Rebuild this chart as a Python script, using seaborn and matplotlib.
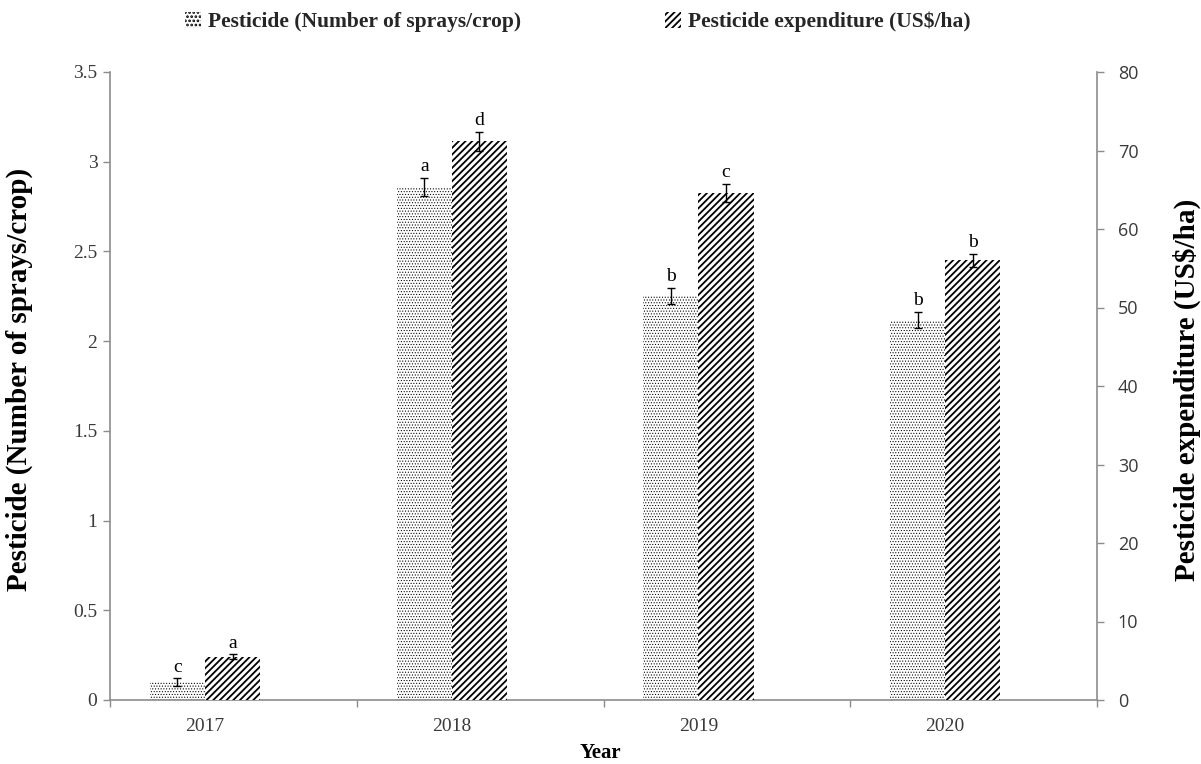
import matplotlib
matplotlib.use("Agg")
import matplotlib.pyplot as plt
import matplotlib.patches as mpatches
import pandas as pd
import seaborn as sns

# ---- data ----
years = ["2017", "2018", "2019", "2020"]
sprays = [0.10, 2.86, 2.25, 2.12]
sprays_err = [0.02, 0.05, 0.045, 0.045]
sprays_letters = ["c", "a", "b", "b"]
expenditure = [5.5, 71.2, 64.6, 56.0]
expenditure_err = [0.3, 1.2, 1.15, 0.8]
expenditure_letters = ["a", "d", "c", "b"]

left_ticks = [0, 0.5, 1, 1.5, 2, 2.5, 3, 3.5]
left_ticklabels = ["0", "0.5", "1", "1.5", "2", "2.5", "3", "3.5"]
right_ticks = [0, 10, 20, 30, 40, 50, 60, 70, 80]

label_sprays = "Pesticide (Number of sprays/crop)"
label_exp = "Pesticide expenditure (US$/ha)"
x_label = "Year"

# ---- styling ----
sns.set_theme(style="white")
plt.rcParams["font.family"] = ["Liberation Serif", "DejaVu Serif"]
AXIS_GREY = "#8c8c8c"
TEXT_GREY = "#3a3a3a"
DOTS = "......"
DOT_LW = 0.45
STRIPES = "/////"
STRIPE_LW = 1.3

df = pd.DataFrame({
    "Year": years * 2,
    "value": sprays + expenditure,
    "series": [label_sprays] * 4 + [label_exp] * 4,
})
hue_order = [label_sprays, label_exp]
palette = {label_sprays: "white", label_exp: "white"}

fig = plt.figure(figsize=(12.01, 7.64), dpi=100)
ax = fig.add_axes([110 / 1201, 1 - 700 / 764, 987 / 1201, 628 / 764])
ax2 = ax.twinx()

plt.rcParams["hatch.linewidth"] = DOT_LW
sns.barplot(data=df[df["series"] == label_sprays], x="Year", y="value",
            hue="series", hue_order=hue_order, order=years, palette=palette,
            width=0.446, dodge=True, legend=False, ax=ax,
            hatch=DOTS, edgecolor="black", linewidth=0)
dot_handle = mpatches.Patch(facecolor="white", edgecolor="black", linewidth=0,
                            hatch="....", label=label_sprays)

plt.rcParams["hatch.linewidth"] = STRIPE_LW
sns.barplot(data=df[df["series"] == label_exp], x="Year", y="value",
            hue="series", hue_order=hue_order, order=years, palette=palette,
            width=0.446, dodge=True, legend=False, ax=ax2,
            hatch=STRIPES, edgecolor="black", linewidth=0)
stripe_handle = mpatches.Patch(facecolor="white", edgecolor="black", linewidth=0,
                               hatch=STRIPES, label=label_exp)


def bar_centres(axis):
    bars = sorted(axis.patches, key=lambda p: p.get_x())
    return [b.get_x() + b.get_width() / 2 for b in bars]


for axis, vals, errs, letters in [
    (ax, sprays, sprays_err, sprays_letters),
    (ax2, expenditure, expenditure_err, expenditure_letters),
]:
    xs = bar_centres(axis)
    axis.errorbar(xs, vals, yerr=errs, fmt="none", ecolor="black",
                  elinewidth=1, capsize=3, capthick=1)
    for x, v, e, t in zip(xs, vals, errs, letters):
        axis.annotate(t, (x, v + e), xytext=(0, 2), textcoords="offset points",
                      ha="center", va="bottom", fontsize=14, color="black")

# ---- axes ----
ax.set_xlim(-0.385, 3.615)
ax.set_ylim(0, 3.5)
ax2.set_ylim(0, 80)

ax.set_xticks(range(len(years)))
ax.set_xticklabels(years)
ax.set_xticks([-0.385, 0.615, 1.615, 2.615, 3.615], minor=True)
ax.tick_params(axis="x", which="major", length=0, pad=13, labelsize=14,
               labelcolor=TEXT_GREY)
ax.tick_params(axis="x", which="minor", length=5, width=1, color=AXIS_GREY,
               direction="out", bottom=True)

ax.set_yticks(left_ticks)
ax.set_yticklabels(left_ticklabels)
ax.tick_params(axis="y", length=5, width=1, color=AXIS_GREY, direction="out",
               left=True, pad=4, labelsize=14, labelcolor=TEXT_GREY)

ax2.set_yticks(right_ticks)
ax2.set_yticklabels([str(t) for t in right_ticks], family="Open Sans")
ax2.tick_params(axis="y", length=5, width=1, color=AXIS_GREY, direction="out",
                right=True, pad=10, labelsize=13, labelcolor=TEXT_GREY)

for a in (ax, ax2):
    a.spines["top"].set_visible(False)
    for s in ("left", "right", "bottom"):
        a.spines[s].set_color(AXIS_GREY)
        a.spines[s].set_linewidth(1.2)
ax.spines["right"].set_visible(False)
ax2.spines["left"].set_visible(False)
ax2.spines["bottom"].set_visible(False)

ax.set_xlabel(x_label, fontsize=15, fontweight="bold", color="black")
ax.xaxis.set_label_coords(0.497, -0.068)
ax.set_ylabel(label_sprays, fontsize=21, fontweight="bold", color="black")
ax.yaxis.set_label_coords(-0.078, 0.51)
ax2.set_ylabel(label_exp, fontsize=21, fontweight="bold", color="black",
               rotation=90)
ax2.yaxis.set_label_coords(1.0765, 0.494)

leg = fig.legend(handles=[dot_handle, stripe_handle], loc="center",
                 bbox_to_anchor=(0.481, 0.971), ncol=2, frameon=False,
                 handlelength=0.75, handleheight=0.75, handletextpad=0.3,
                 columnspacing=6.7,
                 prop={"family": "Liberation Serif", "weight": "bold", "size": 15.5})

fig.savefig("out.png", dpi=100)
